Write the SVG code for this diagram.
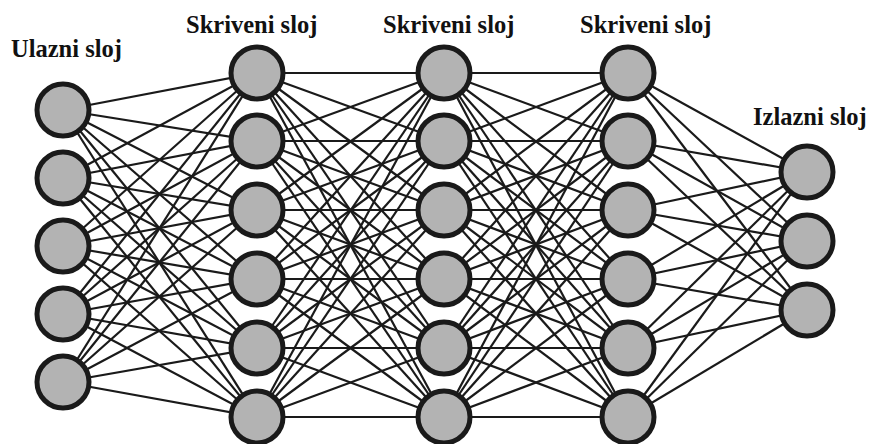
<svg xmlns="http://www.w3.org/2000/svg" width="870" height="444" viewBox="0 0 870 444">
<style>
.c{stroke:#1a1a1a;stroke-width:2.2;fill:none}
.n{fill:#b3b3b3;stroke:#1a1a1a;stroke-width:5}
.t{font-family:"Liberation Serif","Times New Roman",serif;font-weight:bold;font-size:24.5px;fill:#111}
</style>
<rect width="870" height="444" fill="#fff"/>
<g id="connectors">
<line class="c" x1="63" y1="110" x2="257" y2="73"/><line class="c" x1="63" y1="110" x2="257" y2="141"/><line class="c" x1="63" y1="110" x2="257" y2="210"/><line class="c" x1="63" y1="110" x2="257" y2="279"/><line class="c" x1="63" y1="110" x2="257" y2="348"/><line class="c" x1="63" y1="110" x2="257" y2="417"/>
<line class="c" x1="63" y1="178" x2="257" y2="73"/><line class="c" x1="63" y1="178" x2="257" y2="141"/><line class="c" x1="63" y1="178" x2="257" y2="210"/><line class="c" x1="63" y1="178" x2="257" y2="279"/><line class="c" x1="63" y1="178" x2="257" y2="348"/><line class="c" x1="63" y1="178" x2="257" y2="417"/>
<line class="c" x1="63" y1="246" x2="257" y2="73"/><line class="c" x1="63" y1="246" x2="257" y2="141"/><line class="c" x1="63" y1="246" x2="257" y2="210"/><line class="c" x1="63" y1="246" x2="257" y2="279"/><line class="c" x1="63" y1="246" x2="257" y2="348"/><line class="c" x1="63" y1="246" x2="257" y2="417"/>
<line class="c" x1="63" y1="314" x2="257" y2="73"/><line class="c" x1="63" y1="314" x2="257" y2="141"/><line class="c" x1="63" y1="314" x2="257" y2="210"/><line class="c" x1="63" y1="314" x2="257" y2="279"/><line class="c" x1="63" y1="314" x2="257" y2="348"/><line class="c" x1="63" y1="314" x2="257" y2="417"/>
<line class="c" x1="63" y1="382" x2="257" y2="73"/><line class="c" x1="63" y1="382" x2="257" y2="141"/><line class="c" x1="63" y1="382" x2="257" y2="210"/><line class="c" x1="63" y1="382" x2="257" y2="279"/><line class="c" x1="63" y1="382" x2="257" y2="348"/><line class="c" x1="63" y1="382" x2="257" y2="417"/>

<line class="c" x1="257" y1="73" x2="444" y2="73"/><line class="c" x1="257" y1="73" x2="444" y2="141"/><line class="c" x1="257" y1="73" x2="444" y2="210"/><line class="c" x1="257" y1="73" x2="444" y2="279"/><line class="c" x1="257" y1="73" x2="444" y2="348"/><line class="c" x1="257" y1="73" x2="444" y2="417"/>
<line class="c" x1="257" y1="141" x2="444" y2="73"/><line class="c" x1="257" y1="141" x2="444" y2="141"/><line class="c" x1="257" y1="141" x2="444" y2="210"/><line class="c" x1="257" y1="141" x2="444" y2="279"/><line class="c" x1="257" y1="141" x2="444" y2="348"/><line class="c" x1="257" y1="141" x2="444" y2="417"/>
<line class="c" x1="257" y1="210" x2="444" y2="73"/><line class="c" x1="257" y1="210" x2="444" y2="141"/><line class="c" x1="257" y1="210" x2="444" y2="210"/><line class="c" x1="257" y1="210" x2="444" y2="279"/><line class="c" x1="257" y1="210" x2="444" y2="348"/><line class="c" x1="257" y1="210" x2="444" y2="417"/>
<line class="c" x1="257" y1="279" x2="444" y2="73"/><line class="c" x1="257" y1="279" x2="444" y2="141"/><line class="c" x1="257" y1="279" x2="444" y2="210"/><line class="c" x1="257" y1="279" x2="444" y2="279"/><line class="c" x1="257" y1="279" x2="444" y2="348"/><line class="c" x1="257" y1="279" x2="444" y2="417"/>
<line class="c" x1="257" y1="348" x2="444" y2="73"/><line class="c" x1="257" y1="348" x2="444" y2="141"/><line class="c" x1="257" y1="348" x2="444" y2="210"/><line class="c" x1="257" y1="348" x2="444" y2="279"/><line class="c" x1="257" y1="348" x2="444" y2="348"/><line class="c" x1="257" y1="348" x2="444" y2="417"/>
<line class="c" x1="257" y1="417" x2="444" y2="73"/><line class="c" x1="257" y1="417" x2="444" y2="141"/><line class="c" x1="257" y1="417" x2="444" y2="210"/><line class="c" x1="257" y1="417" x2="444" y2="279"/><line class="c" x1="257" y1="417" x2="444" y2="348"/><line class="c" x1="257" y1="417" x2="444" y2="417"/>

<line class="c" x1="444" y1="73" x2="628" y2="73"/><line class="c" x1="444" y1="73" x2="628" y2="141"/><line class="c" x1="444" y1="73" x2="628" y2="210"/><line class="c" x1="444" y1="73" x2="628" y2="279"/><line class="c" x1="444" y1="73" x2="628" y2="348"/><line class="c" x1="444" y1="73" x2="628" y2="417"/>
<line class="c" x1="444" y1="141" x2="628" y2="73"/><line class="c" x1="444" y1="141" x2="628" y2="141"/><line class="c" x1="444" y1="141" x2="628" y2="210"/><line class="c" x1="444" y1="141" x2="628" y2="279"/><line class="c" x1="444" y1="141" x2="628" y2="348"/><line class="c" x1="444" y1="141" x2="628" y2="417"/>
<line class="c" x1="444" y1="210" x2="628" y2="73"/><line class="c" x1="444" y1="210" x2="628" y2="141"/><line class="c" x1="444" y1="210" x2="628" y2="210"/><line class="c" x1="444" y1="210" x2="628" y2="279"/><line class="c" x1="444" y1="210" x2="628" y2="348"/><line class="c" x1="444" y1="210" x2="628" y2="417"/>
<line class="c" x1="444" y1="279" x2="628" y2="73"/><line class="c" x1="444" y1="279" x2="628" y2="141"/><line class="c" x1="444" y1="279" x2="628" y2="210"/><line class="c" x1="444" y1="279" x2="628" y2="279"/><line class="c" x1="444" y1="279" x2="628" y2="348"/><line class="c" x1="444" y1="279" x2="628" y2="417"/>
<line class="c" x1="444" y1="348" x2="628" y2="73"/><line class="c" x1="444" y1="348" x2="628" y2="141"/><line class="c" x1="444" y1="348" x2="628" y2="210"/><line class="c" x1="444" y1="348" x2="628" y2="279"/><line class="c" x1="444" y1="348" x2="628" y2="348"/><line class="c" x1="444" y1="348" x2="628" y2="417"/>
<line class="c" x1="444" y1="417" x2="628" y2="73"/><line class="c" x1="444" y1="417" x2="628" y2="141"/><line class="c" x1="444" y1="417" x2="628" y2="210"/><line class="c" x1="444" y1="417" x2="628" y2="279"/><line class="c" x1="444" y1="417" x2="628" y2="348"/><line class="c" x1="444" y1="417" x2="628" y2="417"/>

<line class="c" x1="628" y1="73" x2="807" y2="172"/><line class="c" x1="628" y1="73" x2="807" y2="241"/><line class="c" x1="628" y1="73" x2="807" y2="310"/>
<line class="c" x1="628" y1="141" x2="807" y2="172"/><line class="c" x1="628" y1="141" x2="807" y2="241"/><line class="c" x1="628" y1="141" x2="807" y2="310"/>
<line class="c" x1="628" y1="210" x2="807" y2="172"/><line class="c" x1="628" y1="210" x2="807" y2="241"/><line class="c" x1="628" y1="210" x2="807" y2="310"/>
<line class="c" x1="628" y1="279" x2="807" y2="172"/><line class="c" x1="628" y1="279" x2="807" y2="241"/><line class="c" x1="628" y1="279" x2="807" y2="310"/>
<line class="c" x1="628" y1="348" x2="807" y2="172"/><line class="c" x1="628" y1="348" x2="807" y2="241"/><line class="c" x1="628" y1="348" x2="807" y2="310"/>
<line class="c" x1="628" y1="417" x2="807" y2="172"/><line class="c" x1="628" y1="417" x2="807" y2="241"/><line class="c" x1="628" y1="417" x2="807" y2="310"/>
</g>
<g id="labels">
<text class="t" x="11" y="57">Ulazni sloj</text>
<text class="t" x="186" y="33">Skriveni sloj</text>
<text class="t" x="383" y="33">Skriveni sloj</text>
<text class="t" x="580" y="33">Skriveni sloj</text>
<text class="t" x="753" y="125">Izlazni sloj</text>
</g>
<g id="input-1"><circle class="n" cx="63" cy="110" r="26"/></g>
<g id="input-2"><circle class="n" cx="63" cy="178" r="26"/></g>
<g id="input-3"><circle class="n" cx="63" cy="246" r="26"/></g>
<g id="input-4"><circle class="n" cx="63" cy="314" r="26"/></g>
<g id="input-5"><circle class="n" cx="63" cy="382" r="26"/></g>
<g id="h1-1"><circle class="n" cx="257" cy="73" r="26"/></g>
<g id="h1-2"><circle class="n" cx="257" cy="141" r="26"/></g>
<g id="h1-3"><circle class="n" cx="257" cy="210" r="26"/></g>
<g id="h1-4"><circle class="n" cx="257" cy="279" r="26"/></g>
<g id="h1-5"><circle class="n" cx="257" cy="348" r="26"/></g>
<g id="h1-6"><circle class="n" cx="257" cy="417" r="26"/></g>
<g id="h2-1"><circle class="n" cx="444" cy="73" r="26"/></g>
<g id="h2-2"><circle class="n" cx="444" cy="141" r="26"/></g>
<g id="h2-3"><circle class="n" cx="444" cy="210" r="26"/></g>
<g id="h2-4"><circle class="n" cx="444" cy="279" r="26"/></g>
<g id="h2-5"><circle class="n" cx="444" cy="348" r="26"/></g>
<g id="h2-6"><circle class="n" cx="444" cy="417" r="26"/></g>
<g id="h3-1"><circle class="n" cx="628" cy="73" r="26"/></g>
<g id="h3-2"><circle class="n" cx="628" cy="141" r="26"/></g>
<g id="h3-3"><circle class="n" cx="628" cy="210" r="26"/></g>
<g id="h3-4"><circle class="n" cx="628" cy="279" r="26"/></g>
<g id="h3-5"><circle class="n" cx="628" cy="348" r="26"/></g>
<g id="h3-6"><circle class="n" cx="628" cy="417" r="26"/></g>
<g id="out-1"><circle class="n" cx="807" cy="172" r="26"/></g>
<g id="out-2"><circle class="n" cx="807" cy="241" r="26"/></g>
<g id="out-3"><circle class="n" cx="807" cy="310" r="26"/></g>
</svg>
